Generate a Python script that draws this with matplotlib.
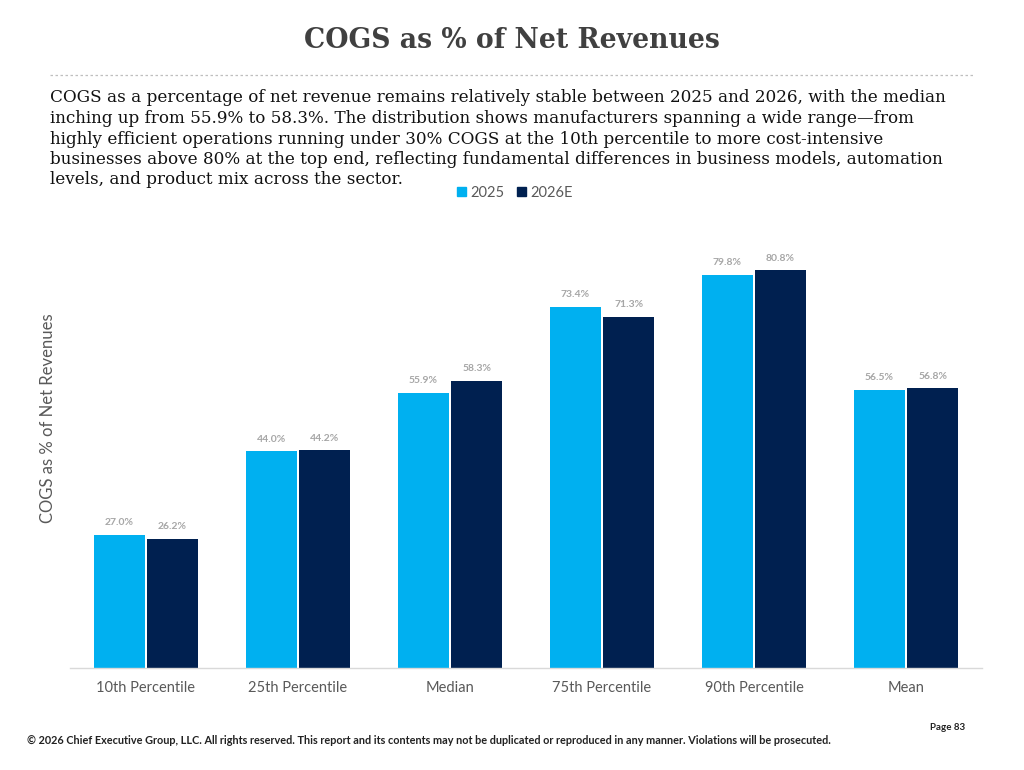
import numpy as np
import matplotlib
matplotlib.use("Agg")
import matplotlib.pyplot as plt
from matplotlib.patches import Patch

# Data
CATEGORIES = ["10th Percentile", "25th Percentile", "Median",
              "75th Percentile", "90th Percentile", "Mean"]
VALUES_2025 = [27.0, 44.0, 55.9, 73.4, 79.8, 56.5]
VALUES_2026 = [26.2, 44.2, 58.3, 71.3, 80.8, 56.8]
SERIES = ["2025", "2026E"]

TITLE = "COGS as % of Net Revenues"
BODY_LINES = [
    "COGS as a percentage of net revenue remains relatively stable between 2025 and 2026, with the median",
    "inching up from 55.9% to 58.3%. The distribution shows manufacturers spanning a wide range\u2014from",
    "highly efficient operations running under 30% COGS at the 10th percentile to more cost-intensive",
    "businesses above 80% at the top end, reflecting fundamental differences in business models, automation",
    "levels, and product mix across the sector.",
]
FOOTER = ("\u00a9 2026 Chief Executive Group, LLC. All rights reserved. This report and its contents may not be "
          "duplicated or reproduced in any manner. Violations will be prosecuted.")

# Colours
LIGHT_BLUE = "#00B0F0"
NAVY = "#002050"
GREY_TEXT = "#595959"

W, H = 1024, 770
fig = plt.figure(figsize=(W / 100, H / 100), dpi=100)

# Header
fig.text(512 / W, 1 - 40 / H, TITLE, ha="center", va="center",
         fontsize=19.2, fontweight="bold", family="DejaVu Serif", color="#404040")
fig.add_artist(plt.Line2D([50 / W, 975 / W], [1 - 75 / H, 1 - 75 / H],
                          color="#BFBFBF", linestyle=(0, (2, 2)), linewidth=0.9))
for i, line in enumerate(BODY_LINES):
    fig.text(50 / W, 1 - (98 + 20.5 * i) / H, line, ha="left", va="center",
             fontsize=12.1, family="DejaVu Serif", color="#111111")

# Chart
ax = fig.add_axes([70 / W, 1 - 668 / H, 912 / W, 448 / H])
x = np.arange(len(CATEGORIES))
bw = 0.335
off = 0.175
b1 = ax.bar(x - off, VALUES_2025, bw, color=LIGHT_BLUE, label=SERIES[0])
b2 = ax.bar(x + off, VALUES_2026, bw, color=NAVY, label=SERIES[1])

for bars in (b1, b2):
    for rect in bars:
        h = rect.get_height()
        ax.annotate(f"{h:.1f}%", (rect.get_x() + rect.get_width() / 2, h),
                    xytext=(0, 5.5), textcoords="offset points", ha="center",
                    va="bottom", fontsize=7.5, fontweight="bold",
                    color="#A6A6A6", family="Lato")

ax.set_xlim(-0.5, len(CATEGORIES) - 0.5)
ax.set_ylim(0, 91)
ax.set_xticks(x)
ax.set_xticklabels(CATEGORIES, fontsize=10.5, color=GREY_TEXT, family="Lato")
ax.tick_params(axis="x", length=0, pad=9)
ax.set_yticks([])
for side in ("top", "right", "left"):
    ax.spines[side].set_visible(False)
ax.spines["bottom"].set_color("#D9D9D9")
ax.spines["bottom"].set_linewidth(1.0)

fig.text(48 / W, 1 - 418 / H, "COGS as % of Net Revenues", rotation=90,
         ha="center", va="center", fontsize=12, color=GREY_TEXT, family="Lato")

handles = [Patch(color=LIGHT_BLUE), Patch(color=NAVY)]
fig.legend(handles, SERIES, loc="center", bbox_to_anchor=(515 / W, 1 - 193 / H),
           ncol=2, frameon=False, handlelength=0.6, handleheight=0.6,
           handletextpad=0.3, columnspacing=0.9, labelcolor=GREY_TEXT,
           prop={"family": "Lato", "size": 10.5})

# Footer
fig.text(965 / W, 1 - 727 / H, "Page 83", ha="right", va="center",
         fontsize=7, fontweight="bold", family="Lato", color="#222222")
fig.text(27 / W, 1 - 741 / H, FOOTER, ha="left", va="center",
         fontsize=7.8, fontweight="bold", family="Lato", color="#222222")

fig.savefig("out.png", dpi=100)
